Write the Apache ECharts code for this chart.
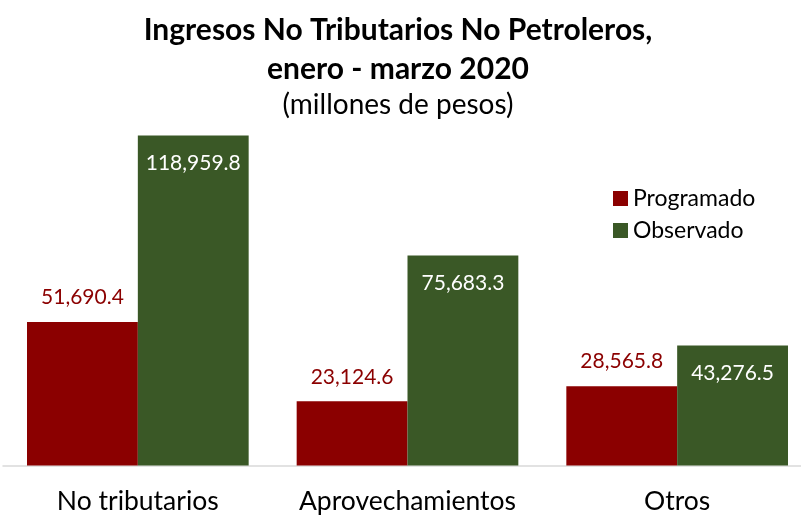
<!DOCTYPE html>
<html><head><meta charset="utf-8">
<script src="https://cdn.jsdelivr.net/npm/echarts@6/dist/echarts.min.js"></script>
<style>html,body{margin:0;padding:0;background:#fff;overflow:hidden}#c{width:815px;height:517px}</style>
</head><body><div id="c"></div>
<script>
const categories = ['No tributarios', 'Aprovechamientos', 'Otros'];
const programado = [51690.4, 23124.6, 28565.8];
const observado = [118959.8, 75683.3, 43276.5];
const seriesNames = ['Programado', 'Observado'];
const titleLines = ['Ingresos No Tributarios No Petroleros,', 'enero - marzo 2020'];
const subtitle = '(millones de pesos)';

const FONT = 'Lato';
const fmt = v => v.toLocaleString('en-US', {minimumFractionDigits: 1, maximumFractionDigits: 1});
const chart = echarts.init(document.getElementById('c'), null, {renderer: 'canvas'});
chart.setOption({
  animation: false,
  title: {
    text: titleLines.join('\n'),
    subtext: subtitle,
    left: 393, top: 6, textAlign: 'center', itemGap: 0,
    textStyle: {fontFamily: FONT, fontWeight: 'bold', fontSize: 30, lineHeight: 39, color: '#000'},
    subtextStyle: {fontFamily: FONT, fontSize: 28, lineHeight: 32, color: '#000'}
  },
  legend: {
    orient: 'vertical', left: 608, top: 182, itemWidth: 15, itemHeight: 15, itemGap: 9,
    icon: 'rect',
    textStyle: {fontFamily: FONT, fontSize: 23, color: '#000'},
    data: seriesNames
  },
  grid: {left: 3, width: 809, top: 77, bottom: 51.5, containLabel: false},
  xAxis: {
    type: 'category', data: categories,
    axisLine: {lineStyle: {color: '#d9d9d9', width: 1.5}},
    axisTick: {show: false},
    axisLabel: {interval: 0, fontFamily: FONT, fontSize: 26.5, color: '#000', margin: 22}
  },
  yAxis: {type: 'value', min: 0, max: 140000, show: false, splitLine: {show: false}},
  series: [
    {name: seriesNames[0], type: 'bar', data: programado, barGap: '0%', barCategoryGap: '17.8%',
     itemStyle: {color: '#8B0000'},
     label: {show: true, position: 'top', distance: 14, formatter: p => fmt(p.value),
             fontFamily: FONT, fontSize: 21, color: '#8B0000'}},
    {name: seriesNames[1], type: 'bar', data: observado, barGap: '0%', barCategoryGap: '17.8%',
     itemStyle: {color: '#3A5826'},
     label: {show: true, position: 'insideTop', distance: 17, formatter: p => fmt(p.value),
             fontFamily: FONT, fontSize: 21, color: '#fff'}}
  ]
});
</script></body></html>
